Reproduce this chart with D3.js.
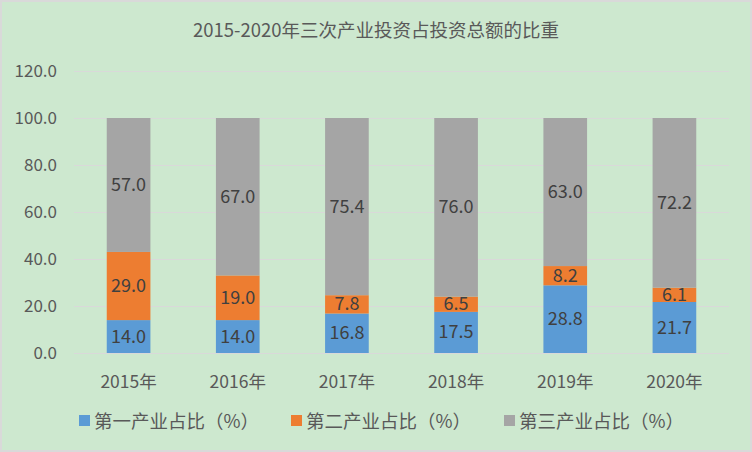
<!DOCTYPE html>
<html>
<head>
<meta charset="utf-8">
<script src="https://cdn.jsdelivr.net/npm/d3@7"></script>
<style>
	body{ margin:0; background:#fff; }
	text{ font-family:"Noto Sans CJK SC",sans-serif; }
</style>
</head>
<body>
<div class="data_display"></div>
<script>
var years = ["2015年", "2016年", "2017年", "2018年", "2019年", "2020年"];
var first = [14.0, 14.0, 16.8, 17.5, 28.8, 21.7];   //第一产业
var second = [29.0, 19.0, 7.8, 6.5, 8.2, 6.1];     //第二产业
var third = [57.0, 67.0, 75.4, 76.0, 63.0, 72.2];  //第三产业
var seriesNames = ["第一产业占比（%）", "第二产业占比（%）", "第三产业占比（%）"];
var yTicks = [0, 20, 40, 60, 80, 100, 120];
var colors = ["#5b9bd5", "#ed7d31", "#a5a5a5"];

var w = 752, h = 452;
var svg = d3.select(".data_display").append("svg")
	.attr("width", w)
	.attr("height", h)
	.style("display", "block");

//background + border
svg.append("rect")
	.attr("x", 1).attr("y", 1)
	.attr("width", w - 2).attr("height", h - 2)
	.attr("fill", "#cde8cf")
	.attr("stroke", "#d9d9d9")
	.attr("stroke-width", 2);

svg.append("text")
	.text("2015-2020年三次产业投资占投资总额的比重")
	.attr("x", 376)
	.attr("y", 37)
	.attr("text-anchor", "middle")
	.attr("fill", "#595959")
	.style("font-size", "18.5px");

var x = d3.scaleBand()
	.domain(years)
	.range([74, 729])
	.paddingInner(0.6)
	.paddingOuter(0.3);

var y = d3.scaleLinear()
	.domain([0, 120])
	.range([353, 71]);

//gridlines
svg.selectAll(".grid")
	.data(yTicks)
	.enter()
	.append("line")
	.attr("x1", 74).attr("x2", 729)
	.attr("y1", function(d){ return Math.round(y(d)) + 0.5; })
	.attr("y2", function(d){ return Math.round(y(d)) + 0.5; })
	.attr("stroke", "#d9d9d9")
	.attr("stroke-width", 1);

svg.selectAll(".ylab")
	.data(yTicks)
	.enter()
	.append("text")
	.text(function(d){ return d.toFixed(1); })
	.attr("x", 57)
	.attr("y", function(d){ return y(d) + 6; })
	.attr("text-anchor", "end")
	.attr("fill", "#595959")
	.style("font-size", "17px");

svg.selectAll(".xlab")
	.data(years)
	.enter()
	.append("text")
	.text(function(d){ return d; })
	.attr("x", function(d){ return x(d) + x.bandwidth() / 2; })
	.attr("y", 388)
	.attr("text-anchor", "middle")
	.attr("fill", "#595959")
	.style("font-size", "17.5px");

//stacked data
var rows = years.map(function(yr, i){
	return {year: yr, s0: first[i], s1: second[i], s2: third[i]};
});
var stack = d3.stack().keys(["s0", "s1", "s2"])(rows);

stack.forEach(function(layer, k){
	var g = svg.append("g");
	g.selectAll("rect")
		.data(layer)
		.enter()
		.append("rect")
		.attr("x", function(d){ return x(d.data.year); })
		.attr("y", function(d){ return y(d[1]); })
		.attr("width", x.bandwidth())
		.attr("height", function(d){ return y(d[0]) - y(d[1]); })
		.attr("fill", colors[k]);
	g.selectAll("text")
		.data(layer)
		.enter()
		.append("text")
		.text(function(d){ return (d[1] - d[0]).toFixed(1); })
		.attr("x", function(d){ return x(d.data.year) + x.bandwidth() / 2; })
		.attr("y", function(d){ return (y(d[0]) + y(d[1])) / 2 + 6; })
		.attr("text-anchor", "middle")
		.attr("fill", "#404040")
		.style("font-size", "18px");
});

//legend
var legX = [79, 291, 504];
seriesNames.forEach(function(name, k){
	svg.append("rect")
		.attr("x", legX[k]).attr("y", 415)
		.attr("width", 11).attr("height", 11)
		.attr("fill", colors[k]);
	svg.append("text")
		.text(name)
		.attr("x", legX[k] + 15)
		.attr("y", 428)
		.attr("fill", "#595959")
		.style("font-size", "18.5px");
});
</script>
</body>
</html>
